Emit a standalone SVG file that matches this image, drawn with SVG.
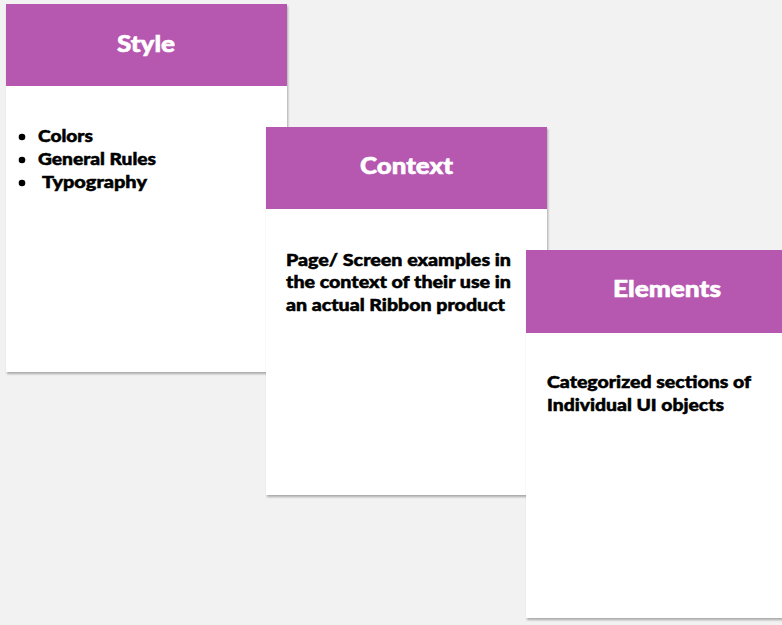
<svg xmlns="http://www.w3.org/2000/svg" width="782" height="625" viewBox="0 0 782 625">
  <defs>
    <filter id="shadow" x="-5%" y="-5%" width="110%" height="110%">
      <feDropShadow dx="1" dy="2" stdDeviation="1" flood-color="#000000" flood-opacity="0.3"/>
    </filter>
  </defs>
  <style>
    .card { fill: #ffffff; filter: url(#shadow); }
    .head { fill: #b657b0; }
    .title { font-family: Lato, "Liberation Sans", sans-serif; font-weight: 900; font-size: 23px; fill: #ffffff; stroke: #ffffff; stroke-width: 0.6; text-anchor: middle; }
    .body { font-family: Lato, "Liberation Sans", sans-serif; font-weight: 900; font-size: 17px; fill: #000000; stroke: #000000; stroke-width: 0.5; }
    .dot { fill: #000000; }
  </style>
  <rect x="0" y="0" width="782" height="625" fill="#f2f2f2"/>

  <g id="style">
    <rect class="card" x="6" y="4" width="281" height="368"/>
    <rect class="head" x="6" y="4" width="281" height="82"/>
    <text class="title" x="146" y="52" textLength="58" lengthAdjust="spacingAndGlyphs">Style</text>
    <circle class="dot" cx="22" cy="137" r="3.3"/>
    <circle class="dot" cx="22" cy="160" r="3.3"/>
    <circle class="dot" cx="22" cy="183" r="3.3"/>
    <text class="body" x="38" y="142" textLength="55" lengthAdjust="spacingAndGlyphs">Colors</text>
    <text class="body" x="38" y="165" textLength="118" lengthAdjust="spacingAndGlyphs">General Rules</text>
    <text class="body" x="42" y="188" textLength="105" lengthAdjust="spacingAndGlyphs">Typography</text>
  </g>

  <g id="context">
    <rect class="card" x="266" y="127" width="281" height="368"/>
    <rect class="head" x="266" y="127" width="281" height="82"/>
    <text class="title" x="406.5" y="174" textLength="93" lengthAdjust="spacingAndGlyphs">Context</text>
    <text class="body" x="286" y="266" textLength="225" lengthAdjust="spacingAndGlyphs">Page/ Screen examples in</text>
    <text class="body" x="286" y="288" textLength="225" lengthAdjust="spacingAndGlyphs">the context of their use in</text>
    <text class="body" x="286" y="311" textLength="219" lengthAdjust="spacingAndGlyphs">an actual Ribbon product</text>
  </g>

  <g id="elements">
    <rect class="card" x="526" y="250" width="268" height="368"/>
    <rect class="head" x="526" y="250" width="268" height="83"/>
    <text class="title" x="667" y="297" textLength="108" lengthAdjust="spacingAndGlyphs">Elements</text>
    <text class="body" x="547" y="388" textLength="204" lengthAdjust="spacingAndGlyphs">Categorized sections of</text>
    <text class="body" x="547" y="411" textLength="177" lengthAdjust="spacingAndGlyphs">Individual UI objects</text>
  </g>

  <g id="connectors"></g>
</svg>
